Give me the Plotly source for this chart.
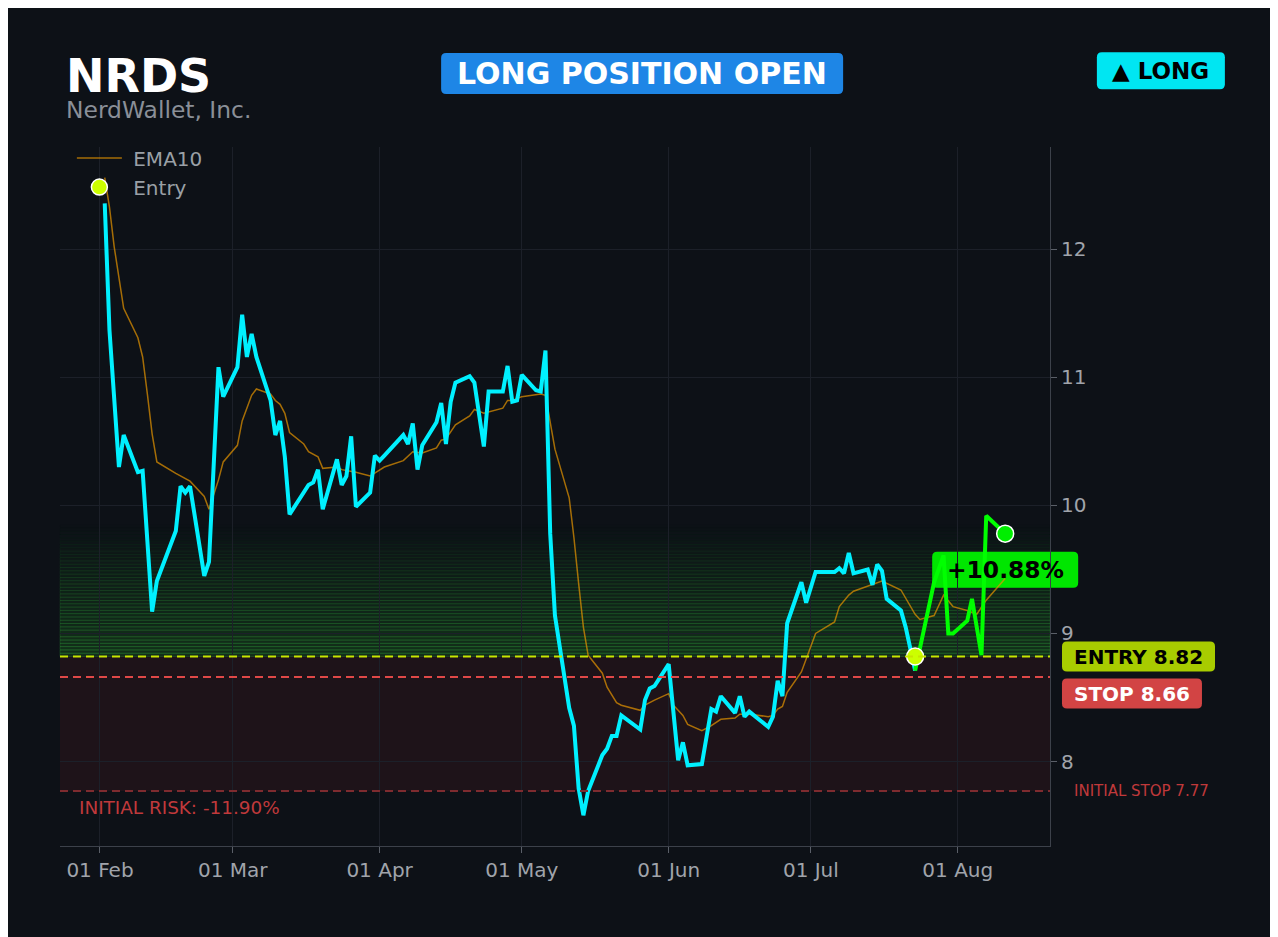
import pandas as pd
import plotly.graph_objects as go

# position / header info
ticker = "NRDS"
company = "NerdWallet, Inc."
entry_price = 8.82
stop_price = 8.66
initial_stop = 7.77
entry_date = "2026-07-23"

# closing prices up to the entry day (cyan)
close_dates = [
    "2026-02-02", "2026-02-03", "2026-02-05", "2026-02-06", "2026-02-09", "2026-02-10", "2026-02-12",
    "2026-02-13", "2026-02-17", "2026-02-18", "2026-02-19", "2026-02-20", "2026-02-23", "2026-02-24",
    "2026-02-26", "2026-02-27", "2026-03-02", "2026-03-03", "2026-03-04", "2026-03-05", "2026-03-06",
    "2026-03-09", "2026-03-10", "2026-03-11", "2026-03-12", "2026-03-13", "2026-03-17", "2026-03-18",
    "2026-03-19", "2026-03-20", "2026-03-23", "2026-03-24", "2026-03-25", "2026-03-26", "2026-03-27",
    "2026-03-30", "2026-03-31", "2026-04-01", "2026-04-02", "2026-04-06", "2026-04-07", "2026-04-08",
    "2026-04-09", "2026-04-10", "2026-04-13", "2026-04-14", "2026-04-15", "2026-04-16", "2026-04-17",
    "2026-04-20", "2026-04-21", "2026-04-23", "2026-04-24", "2026-04-27", "2026-04-28", "2026-04-29",
    "2026-04-30", "2026-05-01", "2026-05-04", "2026-05-05", "2026-05-06", "2026-05-07", "2026-05-08",
    "2026-05-11", "2026-05-12", "2026-05-13", "2026-05-14", "2026-05-15", "2026-05-18", "2026-05-19",
    "2026-05-20", "2026-05-21", "2026-05-22", "2026-05-26", "2026-05-27", "2026-05-28", "2026-05-29",
    "2026-06-01", "2026-06-03", "2026-06-04", "2026-06-05", "2026-06-08", "2026-06-10", "2026-06-11",
    "2026-06-12", "2026-06-15", "2026-06-16", "2026-06-17", "2026-06-18", "2026-06-22", "2026-06-23",
    "2026-06-24", "2026-06-25", "2026-06-26", "2026-06-29", "2026-06-30", "2026-07-02", "2026-07-06",
    "2026-07-07", "2026-07-08", "2026-07-09", "2026-07-10", "2026-07-13", "2026-07-14", "2026-07-15",
    "2026-07-16", "2026-07-17", "2026-07-20", "2026-07-21", "2026-07-22", "2026-07-23",
]
close_values = [
    12.36, 11.37, 10.30, 10.55, 10.26, 10.27, 9.17, 9.41, 9.80, 10.15,
    10.10, 10.15, 9.45, 9.56, 11.08, 10.85, 11.08, 11.49, 11.16, 11.34,
    11.16, 10.82, 10.55, 10.66, 10.38, 9.93, 10.16, 10.18, 10.28, 9.97,
    10.36, 10.16, 10.23, 10.54, 9.99, 10.10, 10.39, 10.35, 10.39, 10.55,
    10.48, 10.64, 10.28, 10.47, 10.65, 10.80, 10.48, 10.81, 10.96, 11.01,
    10.96, 10.46, 10.89, 10.89, 11.09, 10.81, 10.82, 11.02, 10.90, 10.89,
    11.21, 9.78, 9.14, 8.42, 8.28, 7.79, 7.58, 7.77, 8.05, 8.10,
    8.20, 8.20, 8.36, 8.25, 8.48, 8.57, 8.59, 8.76, 8.01, 8.15,
    7.97, 7.98, 8.41, 8.39, 8.51, 8.38, 8.51, 8.35, 8.39, 8.27,
    8.35, 8.63, 8.51, 9.08, 9.40, 9.24, 9.48, 9.48, 9.51, 9.47,
    9.63, 9.47, 9.50, 9.38, 9.54, 9.49, 9.27, 9.18, 9.05, 8.89, 8.71,
]

# closing prices since the entry (green)
trade_dates = ["2026-07-23", "2026-07-27", "2026-07-29", "2026-07-30", "2026-07-31",
               "2026-08-03", "2026-08-04", "2026-08-06", "2026-08-07", "2026-08-11"]
trade_values = [8.71, 9.40, 9.61, 9.00, 9.00, 9.10, 9.27, 8.83, 9.92, 9.78]

# EMA10 line
ema_dates = [
    "2026-02-02", "2026-02-03", "2026-02-04", "2026-02-05", "2026-02-06", "2026-02-09", "2026-02-10",
    "2026-02-11", "2026-02-12", "2026-02-13", "2026-02-17", "2026-02-20", "2026-02-23", "2026-02-24",
    "2026-02-26", "2026-02-27", "2026-03-02", "2026-03-03", "2026-03-05", "2026-03-06", "2026-03-09",
    "2026-03-10", "2026-03-11", "2026-03-12", "2026-03-13", "2026-03-16", "2026-03-17", "2026-03-19",
    "2026-03-20", "2026-03-23", "2026-03-24", "2026-03-27", "2026-03-30", "2026-04-02", "2026-04-06",
    "2026-04-08", "2026-04-10", "2026-04-13", "2026-04-14", "2026-04-15", "2026-04-17", "2026-04-20",
    "2026-04-21", "2026-04-23", "2026-04-24", "2026-04-27", "2026-04-28", "2026-04-29", "2026-05-01",
    "2026-05-05", "2026-05-06", "2026-05-08", "2026-05-11", "2026-05-12", "2026-05-13", "2026-05-14",
    "2026-05-15", "2026-05-18", "2026-05-19", "2026-05-21", "2026-05-22", "2026-05-26", "2026-05-27",
    "2026-05-29", "2026-06-01", "2026-06-02", "2026-06-04", "2026-06-05", "2026-06-08", "2026-06-10",
    "2026-06-12", "2026-06-15", "2026-06-16", "2026-06-18", "2026-06-22", "2026-06-23", "2026-06-24",
    "2026-06-25", "2026-06-26", "2026-06-29", "2026-07-02", "2026-07-06", "2026-07-07", "2026-07-09",
    "2026-07-10", "2026-07-13", "2026-07-16", "2026-07-20", "2026-07-21", "2026-07-23", "2026-07-24",
    "2026-07-27", "2026-07-29", "2026-07-31", "2026-08-03", "2026-08-05", "2026-08-07", "2026-08-11",
]
ema_values = [
    12.56, 12.33, 12.02, 11.76, 11.54, 11.31, 11.16, 10.87, 10.56, 10.34,
    10.25, 10.19, 10.07, 9.97, 10.20, 10.34, 10.47, 10.66, 10.86, 10.91,
    10.87, 10.82, 10.79, 10.72, 10.57, 10.48, 10.42, 10.38, 10.29, 10.30,
    10.28, 10.26, 10.23, 10.30, 10.35, 10.42, 10.41, 10.45, 10.51, 10.52,
    10.63, 10.70, 10.75, 10.72, 10.73, 10.76, 10.82, 10.82, 10.85, 10.87,
    10.86, 10.44, 10.06, 9.75, 9.39, 9.05, 8.83, 8.69, 8.58, 8.46,
    8.44, 8.40, 8.44, 8.48, 8.53, 8.44, 8.36, 8.29, 8.24, 8.28,
    8.33, 8.34, 8.37, 8.37, 8.35, 8.36, 8.41, 8.43, 8.54, 8.70,
    9.00, 9.09, 9.21, 9.30, 9.33, 9.37, 9.41, 9.34, 9.28, 9.15,
    9.11, 9.14, 9.30, 9.21, 9.18, 9.15, 9.26, 9.43,
]

BG = "#0d1117"
GRID = "#1c2029"
TICK = "#a0a4ab"
FONT = "DejaVu Sans"
X_RANGE = ["2026-01-23 13:30", "2026-08-20 11:00"]
Y_RANGE = [7.34, 12.80]

last_date = trade_dates[-1]
last_price = trade_values[-1]
pnl = (last_price / entry_price - 1) * 100
risk = (initial_stop / entry_price - 1) * 100


def x_paper(d):
    t0, t1 = pd.Timestamp(X_RANGE[0]), pd.Timestamp(X_RANGE[1])
    return (pd.Timestamp(d) - t0) / (t1 - t0)


def y_paper(v):
    return (v - Y_RANGE[0]) / (Y_RANGE[1] - Y_RANGE[0])


def rounded_box(xa, ya, w, h, color, dy=0, r=5, layer="above"):
    # rounded rectangle measured in pixels around a paper anchor point
    x0, x1 = -w / 2, w / 2
    y0, y1 = dy - h / 2, dy + h / 2
    path = (f"M{x0 + r},{y0} L{x1 - r},{y0} Q{x1},{y0} {x1},{y0 + r} "
            f"L{x1},{y1 - r} Q{x1},{y1} {x1 - r},{y1} L{x0 + r},{y1} "
            f"Q{x0},{y1} {x0},{y1 - r} L{x0},{y0 + r} Q{x0},{y0} {x0 + r},{y0} Z")
    return dict(type="path", xref="paper", yref="paper", xsizemode="pixel", ysizemode="pixel",
                xanchor=xa, yanchor=ya, path=path, fillcolor=color,
                line=dict(width=0), layer=layer)


fig = go.Figure()

# green fading zone above entry
zone_top = 9.85
n_bands = 40
step = (zone_top - entry_price) / n_bands
for i in range(n_bands):
    a = 0.25 * (1 - i / n_bands)
    fig.add_shape(type="rect", xref="paper", yref="y", x0=0, x1=1,
                  y0=entry_price + i * step, y1=entry_price + (i + 1) * step,
                  fillcolor=f"rgba(34,139,34,{a:.3f})",
                  line=dict(color=f"rgba(60,190,70,{a * 0.9:.3f})", width=1),
                  layer="below")

# risk zone between initial stop and entry
fig.add_shape(type="rect", xref="paper", yref="y", x0=0, x1=1, y0=initial_stop, y1=entry_price,
              fillcolor="rgba(255,60,60,0.07)", line=dict(width=0), layer="below")

# level lines
for level, color in [(entry_price, "#c8e600"), (stop_price, "#e04848"), (initial_stop, "#7e2b2f")]:
    fig.add_shape(type="line", xref="paper", yref="y", x0=0, x1=1, y0=level, y1=level,
                  line=dict(color=color, width=2, dash="8px,5px"))

# label boxes
fig.add_shape(rounded_box(x_paper(last_date), y_paper(last_price), 146, 36, "#00e600",
                          dy=-36, layer="below"))
fig.add_shape(rounded_box(0.588, 1.105, 402, 41, "#1e86e6"))
fig.add_shape(rounded_box(1.112, 1.109, 128, 37, "#00e6f2"))
fig.add_shape(rounded_box(1.0894, y_paper(entry_price), 153, 30, "#a8cc00"))
fig.add_shape(rounded_box(1.0828, y_paper(stop_price), 140, 30, "#d24444", dy=-16.5))

NB = "\u00a0"
fig.add_trace(go.Scatter(x=ema_dates, y=ema_values, mode="lines", name=NB + "EMA10",
                         line=dict(color="rgba(225,145,0,0.72)", width=1.5)))
fig.add_trace(go.Scatter(x=close_dates, y=close_values, mode="lines", showlegend=False,
                         line=dict(color="#00f0ff", width=4)))
fig.add_trace(go.Scatter(x=trade_dates, y=trade_values, mode="lines", showlegend=False,
                         line=dict(color="#00ff00", width=4)))
fig.add_trace(go.Scatter(x=[entry_date], y=[entry_price], mode="markers", name=NB + "Entry",
                         marker=dict(size=17, color="#ccff00", line=dict(color="white", width=1.5))))
fig.add_trace(go.Scatter(x=[last_date], y=[last_price], mode="markers", showlegend=False,
                         marker=dict(size=17, color="#00ee00", line=dict(color="white", width=1.5))))

annotations = [
    dict(text=f"<b>{ticker}</b>", xref="paper", yref="paper", x=0.004, y=1.102,
         xanchor="left", yanchor="middle", showarrow=False, font=dict(size=46, color="white")),
    dict(text=company, xref="paper", yref="paper", x=0.004, y=1.053,
         xanchor="left", yanchor="middle", showarrow=False, font=dict(size=23.4, color="#8a8f98")),
    dict(text="<b>LONG POSITION OPEN</b>", xref="paper", yref="paper", x=0.588, y=1.105,
         xanchor="center", yanchor="middle", showarrow=False, font=dict(size=30, color="white")),
    dict(text="<b>▲ LONG</b>", xref="paper", yref="paper", x=1.112, y=1.109,
         xanchor="center", yanchor="middle", showarrow=False, font=dict(size=23, color="black")),
    dict(text=f"<b>ENTRY {entry_price:.2f}</b>", xref="paper", yref="y", x=1.0894, y=entry_price,
         xanchor="center", yanchor="middle", showarrow=False, font=dict(size=20, color="black")),
    dict(text=f"<b>STOP {stop_price:.2f}</b>", xref="paper", yref="y", x=1.0828, y=stop_price,
         yshift=-16.5, xanchor="center", yanchor="middle", showarrow=False,
         font=dict(size=20, color="white")),
    dict(text=f"INITIAL STOP {initial_stop:.2f}", xref="paper", yref="y", x=1.0222, y=initial_stop,
         xanchor="left", yanchor="middle", showarrow=False, font=dict(size=15, color="#c0393b")),
    dict(text=f"INITIAL RISK: {risk:.2f}%", xref="paper", yref="y", x=0.0172, y=initial_stop,
         yshift=-17, xanchor="left", yanchor="middle", showarrow=False,
         font=dict(size=18.4, color="#c0393b")),
    dict(text=f"<b>{pnl:+.2f}%</b>", xref="x", yref="y", x=last_date, y=last_price, yshift=-36,
         xanchor="center", yanchor="middle", showarrow=False, font=dict(size=23.4, color="black")),
]

fig.update_layout(
    width=1278, height=937,
    margin=dict(l=52, r=236, t=139, b=99),
    paper_bgcolor=BG, plot_bgcolor=BG,
    font=dict(family=FONT, color=TICK),
    showlegend=True,
    legend=dict(x=0.012, y=1.012, xanchor="left", yanchor="top", bgcolor="rgba(0,0,0,0)",
                itemwidth=45, font=dict(size=20, color="#9aa0a6")),
    hovermode=False,
    annotations=annotations,
)
fig.update_xaxes(type="date", range=X_RANGE,
                 tickformat="%d %b", dtick="M1", tick0="2026-02-01",
                 showgrid=True, gridcolor=GRID, zeroline=False,
                 showline=True, linecolor="#3c414a", linewidth=1,
                 ticks="outside", ticklen=6, tickcolor="#5a5f68",
                 tickfont=dict(size=20, color=TICK))
fig.update_yaxes(side="right", range=Y_RANGE, dtick=1,
                 showgrid=True, gridcolor=GRID, zeroline=False,
                 showline=True, linecolor="#3c414a", linewidth=1,
                 ticks="outside", ticklen=6, tickcolor="#5a5f68",
                 tickfont=dict(size=20, color=TICK))

fig.write_html("out.html")
